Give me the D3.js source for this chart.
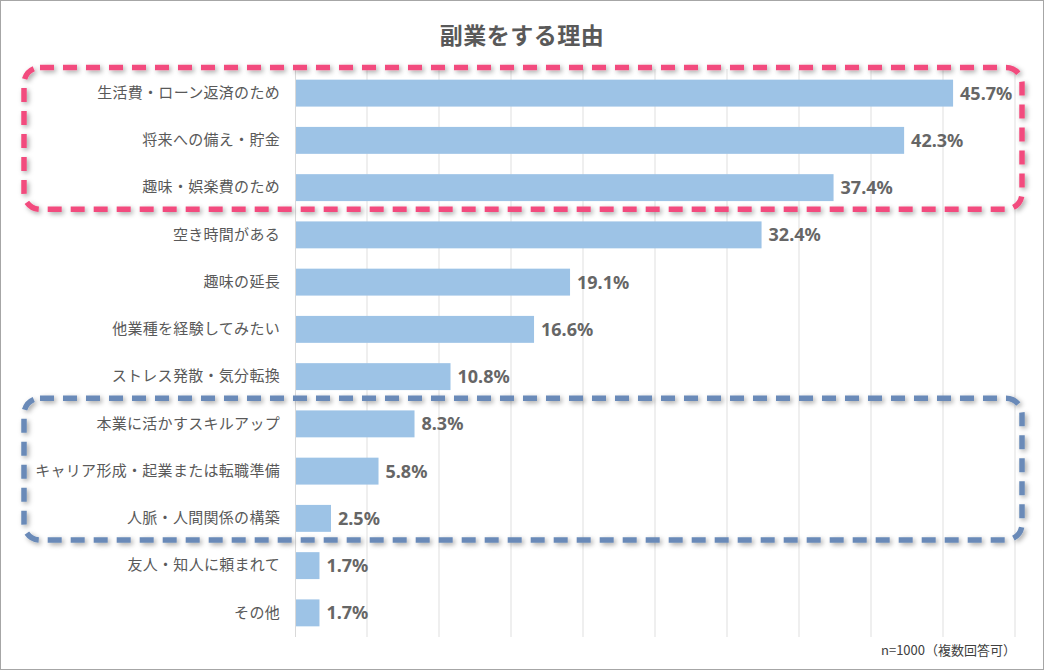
<!DOCTYPE html>
<html><head><meta charset="utf-8">
<script src="https://cdn.jsdelivr.net/npm/d3@7/dist/d3.min.js"></script>
<style>
html,body{margin:0;padding:0;background:#fff;}
svg{display:block;font-family:"Noto Sans CJK JP","Noto Sans",sans-serif;}
</style></head>
<body>
<svg id="chart" width="1044" height="670"></svg>
<script>
const title = "副業をする理由";
const note = "n=1000（複数回答可）";
const categories = [
  "生活費・ローン返済のため",
  "将来への備え・貯金",
  "趣味・娯楽費のため",
  "空き時間がある",
  "趣味の延長",
  "他業種を経験してみたい",
  "ストレス発散・気分転換",
  "本業に活かすスキルアップ",
  "キャリア形成・起業または転職準備",
  "人脈・人間関係の構築",
  "友人・知人に頼まれて",
  "その他"
];
const values = [45.7, 42.3, 37.4, 32.4, 19.1, 16.6, 10.8, 8.3, 5.8, 2.5, 1.7, 1.7];
const gridTicks = [5, 10, 15, 20, 25, 30, 35, 40, 45, 50];
const highlightGroups = [
  {from: 0, to: 2, color: "#F24C7E"},
  {from: 7, to: 9, color: "#6A8AB8"}
];

const svg = d3.select("#chart");
const W = 1044, H = 670;

const defs = svg.append("defs");
const f = defs.append("filter").attr("id","shadow").attr("x","-5%").attr("y","-20%").attr("width","110%").attr("height","140%");
f.append("feDropShadow").attr("dx",2).attr("dy",2).attr("stdDeviation",2.5).attr("flood-color","#000").attr("flood-opacity",0.35);

// frame
svg.append("rect").attr("x",0.5).attr("y",0.5).attr("width",W-1).attr("height",H-1)
  .attr("fill","#fff").attr("stroke","#a6a6a6").attr("stroke-width",1);

const x = d3.scaleLinear().domain([0, 50]).range([295, 1015]);
const y = d3.scaleBand().domain(categories).range([69.5, 636.5]).paddingInner(0.43).paddingOuter(0.215);

// gridlines
svg.append("g").selectAll("line").data(gridTicks).join("line")
  .attr("x1", d => x(d)).attr("x2", d => x(d))
  .attr("y1", 69).attr("y2", 637)
  .attr("stroke", "#efefef").attr("stroke-width", 2);

// bars
svg.append("g").selectAll("rect").data(values).join("rect")
  .attr("x", x(0))
  .attr("y", (d,i) => y(categories[i]))
  .attr("width", d => x(d) - x(0))
  .attr("height", y.bandwidth())
  .attr("fill", "#9DC3E6");

// axis line
const yAxis = d3.axisLeft(y).tickSize(0).tickPadding(15);
const ag = svg.append("g").attr("transform", `translate(${x(0)},0)`).call(yAxis);
ag.select(".domain").attr("stroke","#d9d9d9").attr("stroke-width",1)
  .attr("d", `M0.5,69V637`);
ag.selectAll("text").attr("font-size", 15).attr("fill", "#595959")
  .attr("font-family", '"Noto Sans CJK JP",sans-serif').attr("letter-spacing", "0.3px");

// value labels
svg.append("g").selectAll("text").data(values).join("text")
  .attr("x", d => x(d) + 7)
  .attr("y", (d,i) => y(categories[i]) + y.bandwidth()/2)
  .attr("dy", "0.36em")
  .attr("font-size", 18).attr("font-weight", "bold").attr("fill", "#666")
  .attr("font-family", '"Noto Sans","Noto Sans CJK JP",sans-serif')
  .text(d => d.toFixed(1) + "%");

// title
svg.append("text").attr("x", 522).attr("y", 44).attr("text-anchor","middle")
  .attr("font-size", 23).attr("font-weight","bold").attr("fill","#595959")
  .attr("letter-spacing","0.5px").text(title);

// note
svg.append("text").attr("x", 1016).attr("y", 655).attr("text-anchor","end")
  .attr("font-size", 13).attr("fill","#404040").text(note);

// highlight boxes
const step = y.step();
svg.append("g").selectAll("rect").data(highlightGroups).join("rect")
  .attr("x", 24)
  .attr("y", d => y(categories[d.from]) - (step - y.bandwidth())/2 - 2)
  .attr("width", 1022 - 24)
  .attr("height", d => (d.to - d.from + 1) * step)
  .attr("rx", 16).attr("ry", 16)
  .attr("fill", "none").attr("stroke", d => d.color)
  .attr("stroke-width", 5.5).attr("stroke-dasharray", "14,9")
  .attr("filter", "url(#shadow)");
</script>
</body></html>
